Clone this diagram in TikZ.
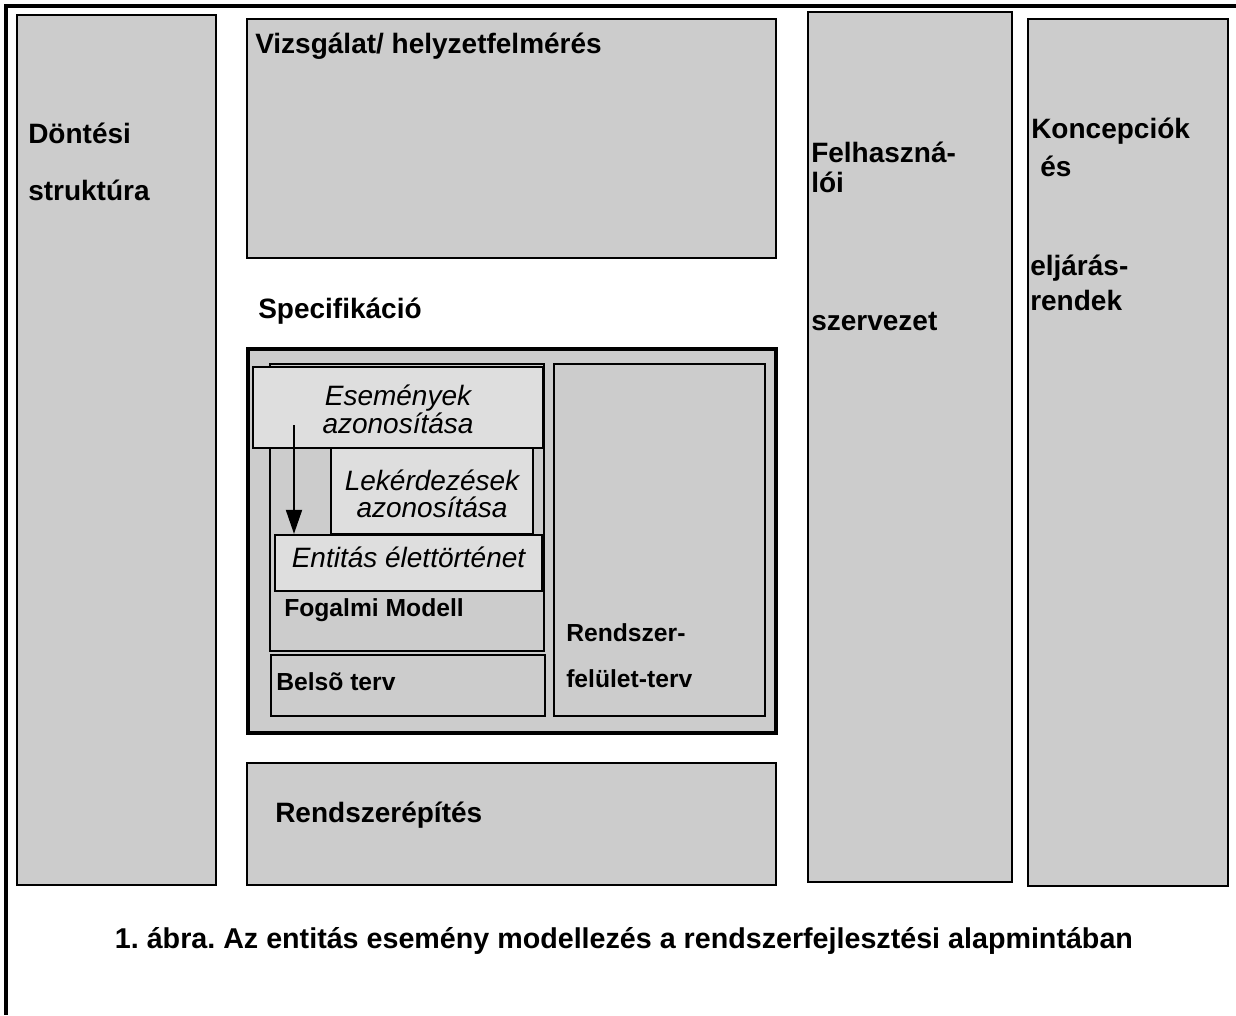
\documentclass[tikz,border=0pt]{standalone}
\usepackage{fontspec}
\setmainfont{Liberation Sans}
\usetikzlibrary{fit,arrows.meta}
\definecolor{panelgray}{HTML}{CCCCCC}
\definecolor{notegray}{HTML}{DEDEDE}
\frenchspacing

\begin{document}
\begin{tikzpicture}[x=0.75pt,y=-0.75pt,
  panel/.style={draw=black, fill=panelgray, line width=1.7pt, inner sep=0pt},
  heavypanel/.style={panel, line width=2.8pt},
  notebox/.style={panel, fill=notegray},
  lbl/.style={anchor=base west, inner sep=0pt, font=\fontsize{21}{25}\selectfont\bfseries},
  smalllbl/.style={lbl, font=\fontsize{18.5}{22}\selectfont\bfseries},
  note/.style={anchor=base, inner sep=0pt, font=\fontsize{21}{25}\selectfont\itshape},
  caption/.style={anchor=base, inner sep=0pt, font=\fontsize{21.5}{26}\selectfont\bfseries},
]
\useasboundingbox[fill=white] (0,0) rectangle (1236,1015);

% page frame (top and left edges)
\draw[line width=2.8pt] (1236,6) -- (6,6) -- (6,1015);

% outer columns and rows
\node[panel, fit={(17,15) (216,885)}] (dontes) {};
\node[panel, fit={(247,19) (776,258)}] (vizsg) {};
\node[panel, fit={(808,12) (1012,882)}] (felh) {};
\node[panel, fit={(1028,19) (1228,886)}] (konc) {};
\node[panel, fit={(247,763) (776,885)}] (epites) {};

% specification block
\node[heavypanel, fit={(248,349) (776,733)}] (spec) {};
\node[panel, fit={(270,364) (544,651)}] (fogalmi) {};
\node[panel, fit={(271,655) (545,716)}] (belso) {};
\node[panel, fit={(554,364) (765,716)}] (felulet) {};
\node[notebox, fit={(331,448) (533,534)}] (lekerd) {};
\node[notebox, fit={(275,535) (542,591)}] (entitas) {};
\node[notebox, fit={(253,367) (543,448)}] (esem) {};

% flow from events to entity life history
\coordinate (flowstart) at (294,425);
\draw[line width=1.4pt, -{Triangle[length=24pt*0.75, width=16pt*0.75]}]
  (flowstart) -- (flowstart |- entitas.north);

% labels
\node[lbl] (t-dont1) at (28,143) {Döntési};
\node[lbl] (t-dont2) at (28,200) {struktúra};
\node[lbl] (t-vizsg) at (255,53) {Vizsgálat/ helyzetfelmérés};
\node[lbl] (t-spec) at (258,318) {Specifikáció};
\node[lbl] (t-felh1) at (811,162) {Felhaszná-};
\node[lbl] (t-felh2) at (811,192) {lói};
\node[lbl] (t-felh3) at (811,330) {szervezet};
\node[lbl] (t-konc1) at (1031,138) {Koncepciók};
\node[lbl] (t-konc2) at (1040,176) {és};
\node[lbl] (t-konc3) at (1030,275) {eljárás-};
\node[lbl] (t-konc4) at (1030,310) {rendek};
\node[lbl] (t-epit) at (275,822) {Rendszerépítés};

\node[smalllbl] (t-fog) at (284,616) {Fogalmi Modell};
\node[smalllbl] (t-belso) at (276,690) {Belsõ terv};
\node[smalllbl] (t-fel1) at (566,641) {Rendszer-};
\node[smalllbl] (t-fel2) at (566,687) {felület-terv};

\node[note] (t-esem1) at (esem.center |- 0,405) {Események};
\node[note] (t-esem2) at (esem.center |- 0,433) {azonosítása};
\node[note] (t-lek1) at (lekerd.center |- 0,490) {Lekérdezések};
\node[note] (t-lek2) at (lekerd.center |- 0,517) {azonosítása};
\node[note] (t-ent) at (entitas.center |- 0,567) {Entitás élettörténet};

\node[caption] (t-cap) at (624,948) {1. ábra. Az entitás esemény modellezés a rendszerfejlesztési alapmintában};
\end{tikzpicture}
\end{document}
